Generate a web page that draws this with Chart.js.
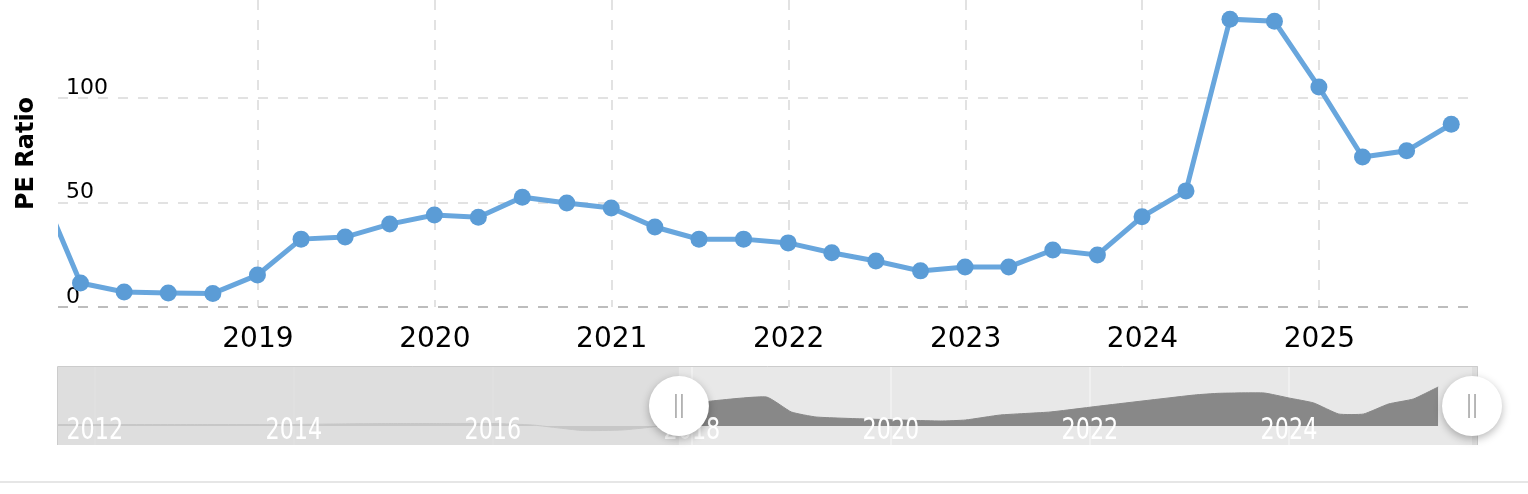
<!DOCTYPE html>
<html>
<head>
<meta charset="utf-8">
<script src="https://cdn.jsdelivr.net/npm/chart.js@4.4.1/dist/chart.umd.min.js"></script>
<style>
  body { margin: 0; background: #fff; width: 1528px; height: 494px; overflow: hidden; position: relative; }
  #principal { position: absolute; left: 0; top: 0; }
  #navegador { position: absolute; left: 0; top: 355px; }
  #separador { position: absolute; left: 0; top: 481px; width: 1528px; height: 2px; background: #e6e6e6; }
</style>
</head>
<body>
<canvas id="principal" width="1528" height="360"></canvas>
<canvas id="navegador" width="1528" height="100"></canvas>
<div id="separador"></div>
<script>
// quarterly PE ratio (main chart)
const fechasTrimestre = [
  '2017-09-30', '2017-12-31',
  '2018-03-31', '2018-06-30', '2018-09-30', '2018-12-31',
  '2019-03-31', '2019-06-30', '2019-09-30', '2019-12-31',
  '2020-03-31', '2020-06-30', '2020-09-30', '2020-12-31',
  '2021-03-31', '2021-06-30', '2021-09-30', '2021-12-31',
  '2022-03-31', '2022-06-30', '2022-09-30', '2022-12-31',
  '2023-03-31', '2023-06-30', '2023-09-30', '2023-12-31',
  '2024-03-31', '2024-06-30', '2024-09-30', '2024-12-31',
  '2025-03-31', '2025-06-30', '2025-09-30'
];
const valoresPE = [
  62, 11.5,
  7.2, 6.7, 6.5, 15.3,
  32.5, 33.5, 39.7, 44,
  43, 52.6, 49.8, 47.4,
  38.3, 32.5, 32.5, 30.7,
  26, 22, 17.3, 19.2,
  19.2, 27.3, 24.9, 43.2,
  55.6, 137.8, 136.8, 105.3,
  71.8, 74.8, 87.5
];
const aniosEje = [2019, 2020, 2021, 2022, 2023, 2024, 2025];
const marcasY = [0, 50, 100];

// navigator series (overview, years as decimals)
const navAnios = [2011.6, 2012.0, 2013.0, 2014.0, 2014.4, 2015.0, 2015.5, 2016.0, 2016.4, 2016.9,
  2017.3, 2017.6, 2017.85, 2018.05, 2018.2, 2018.75, 2019.0, 2019.25, 2019.75, 2020.5,
  2020.75, 2021.1, 2021.6, 2022.1, 2023.05, 2023.3, 2023.75, 2024.0, 2024.25, 2024.5,
  2024.75, 2025.0, 2025.25, 2025.5];
const navValores = [1.5, 1.5, 1.5, 1.5, 2, 2.5, 2.5, 2.5, 1, -4.5,
  -4, -1, 3, 22, 25, 29, 14, 9, 7, 5,
  6, 11, 14, 20, 31, 32.7, 33, 28, 23, 12,
  12, 22, 27, 39];
const navMarcas = [2012, 2014, 2016, 2018, 2020, 2022, 2024];

// visible window
const inicioVista = 2017.87;
const finVista = 2025.84;

const anioDecimal = function(fecha) {
  const [a, m, d] = fecha.split('-').map(Number);
  const ini = Date.UTC(a, 0, 1);
  const fin = Date.UTC(a + 1, 0, 1);
  return a + (Date.UTC(a, m - 1, d) - ini) / (fin - ini);
};

const fuente = 'DejaVu Sans';
const gris = '#e2e2e2';

new Chart(document.getElementById('principal').getContext('2d'), {
  type: 'line',
  data: {
    datasets: [{
      data: fechasTrimestre.map((f, i) => ({ x: anioDecimal(f), y: valoresPE[i] })),
      borderColor: '#68a6dd',
      borderWidth: 5,
      pointRadius: 8.5,
      pointBackgroundColor: '#5b9cd6',
      pointBorderWidth: 0,
      tension: 0
    }]
  },
  options: {
    responsive: false,
    animation: false,
    events: [],
    layout: { autoPadding: false, padding: { left: 0, right: 60, top: 0, bottom: 0 } },
    plugins: { legend: { display: false }, tooltip: { enabled: false } },
    scales: {
      x: {
        type: 'linear',
        min: inicioVista,
        max: finVista,
        afterBuildTicks: s => { s.ticks = aniosEje.map(v => ({ value: v })); },
        afterFit: s => { s.height = 53; s.paddingLeft = 0; s.paddingRight = 0; },
        grid: { color: gris, lineWidth: 2, drawTicks: false },
        border: { display: false, dash: [10, 10] },
        ticks: { padding: 16, color: '#000', maxRotation: 0, autoSkip: false,
                 font: { family: fuente, size: 28 }, callback: v => String(v) }
      },
      y: {
        min: 0,
        max: 147,
        afterBuildTicks: s => { s.ticks = marcasY.map(v => ({ value: v })); },
        afterFit: s => { s.width = 58; s.paddingTop = 0; s.paddingBottom = 0; },
        grid: { color: c => (c.tick && c.tick.value === 0) ? '#bdbdbd' : gris, lineWidth: 2, drawTicks: false },
        border: { display: false, dash: [10, 10] },
        ticks: { mirror: true, padding: 8, labelOffset: -10, color: '#000',
                 font: { family: fuente, size: 22 }, callback: v => String(v) },
        title: { display: true, text: 'PE Ratio', color: '#000',
                 font: { family: fuente, size: 24, weight: 'bold' }, padding: { top: 12, bottom: 0 } }
      }
    }
  }
});

// navigator handle
const dibujaAsa = function(ctx, cx, cy) {
  ctx.save();
  ctx.shadowColor = 'rgba(0,0,0,0.28)';
  ctx.shadowBlur = 8;
  ctx.shadowOffsetY = 3;
  ctx.fillStyle = '#fff';
  ctx.beginPath();
  ctx.arc(cx, cy, 30, 0, Math.PI * 2);
  ctx.fill();
  ctx.restore();
  ctx.save();
  ctx.strokeStyle = '#a0a0a0';
  ctx.lineWidth = 1.5;
  [-3, 3].forEach(d => {
    ctx.beginPath();
    ctx.moveTo(cx + d, cy - 12);
    ctx.lineTo(cx + d, cy + 12);
    ctx.stroke();
  });
  ctx.restore();
};

const pluginNavegador = {
  id: 'navegador',
  beforeDatasetsDraw(chart) {
    const { ctx, chartArea: a, scales: { x } } = chart;
    ctx.save();
    ctx.fillStyle = '#e8e8e8';
    ctx.fillRect(a.left, a.top, a.right - a.left, a.bottom - a.top);
    ctx.strokeStyle = '#f3f3f3';
    ctx.lineWidth = 1.5;
    navMarcas.forEach(v => {
      const px = Math.round(x.getPixelForValue(v));
      ctx.beginPath();
      ctx.moveTo(px, a.top);
      ctx.lineTo(px, a.bottom);
      ctx.stroke();
    });
    ctx.restore();
  },
  afterDatasetsDraw(chart) {
    const { ctx, chartArea: a, scales: { x } } = chart;
    const izq = x.getPixelForValue(inicioVista);
    const der = x.getPixelForValue(finVista);
    ctx.save();
    ctx.fillStyle = 'rgba(219,219,219,0.77)';
    ctx.fillRect(a.left, a.top, izq - a.left, a.bottom - a.top);
    ctx.fillRect(der, a.top, a.right - der, a.bottom - a.top);
    ctx.strokeStyle = '#cccccc';
    ctx.lineWidth = 1;
    ctx.beginPath();
    ctx.moveTo(a.left - 0.5, a.bottom);
    ctx.lineTo(a.left - 0.5, a.top + 0.5);
    ctx.lineTo(a.right - 0.5, a.top + 0.5);
    ctx.lineTo(a.right - 0.5, a.bottom);
    ctx.stroke();
    ctx.restore();
  },
  afterDraw(chart) {
    const { ctx, chartArea: a, scales: { x } } = chart;
    ctx.save();
    ctx.fillStyle = '#ffffff';
    ctx.font = '31px "' + fuente + '"';
    ctx.textAlign = 'center';
    ctx.textBaseline = 'middle';
    navMarcas.forEach(v => {
      ctx.save();
      ctx.translate(x.getPixelForValue(v), a.bottom - 14);
      ctx.scale(0.72, 1);
      ctx.fillText(String(v), 0, 0);
      ctx.restore();
    });
    ctx.restore();
    dibujaAsa(ctx, x.getPixelForValue(inicioVista), a.top + 40);
    dibujaAsa(ctx, x.getPixelForValue(finVista), a.top + 40);
  }
};

new Chart(document.getElementById('navegador').getContext('2d'), {
  type: 'line',
  data: {
    datasets: [{
      data: navAnios.map((v, i) => ({ x: v, y: navValores[i] })),
      fill: 'origin',
      backgroundColor: '#888888',
      borderColor: '#888888',
      borderWidth: 1,
      pointRadius: 0,
      tension: 0.15
    }]
  },
  options: {
    responsive: false,
    animation: false,
    events: [],
    layout: { autoPadding: false, padding: { left: 58, right: 50, top: 11, bottom: 10 } },
    plugins: { legend: { display: false }, tooltip: { enabled: false } },
    scales: {
      x: { type: 'linear', display: false, min: 2011.63, max: 2025.9 },
      y: { display: false, min: -19, max: 60 }
    }
  },
  plugins: [pluginNavegador]
});
</script>
</body>
</html>
